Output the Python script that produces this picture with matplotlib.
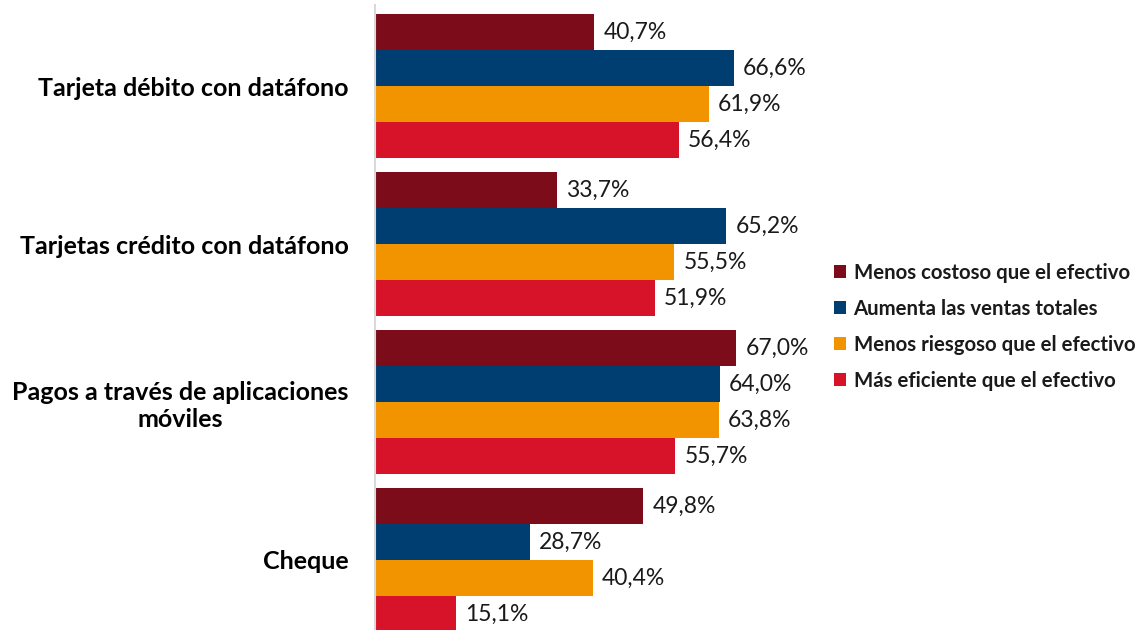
import matplotlib.pyplot as plt
import numpy as np

categories = ["Tarjeta débito con datáfono",
              "Tarjetas crédito con datáfono",
              "Pagos a través de aplicaciones\nmóviles",
              "Cheque"]
series_names = ["Menos costoso que el efectivo",
                "Aumenta las ventas totales",
                "Menos riesgoso que el efectivo",
                "Más eficiente que el efectivo"]
menos_costoso = [40.7, 33.7, 67.0, 49.8]
aumenta_ventas = [66.6, 65.2, 64.0, 28.7]
menos_riesgoso = [61.9, 55.5, 63.8, 40.4]
mas_eficiente = [56.4, 51.9, 55.7, 15.1]
colors = ["#7C0C1A", "#003E72", "#F29400", "#D7132A"]

plt.rcParams['font.family'] = ['Lato', 'DejaVu Sans']

W, H = 1137, 630
fig = plt.figure(figsize=(W / 100, H / 100), dpi=100)
# axes placed in pixel units: left 375, right 820, top 5, bottom 630
ax = fig.add_axes([375 / W, 0, (820 - 375) / W, (630 - 5) / H])

pitch = 158.0
bar_h = 36.0 / pitch
y = np.arange(len(categories))
all_series = [menos_costoso, aumenta_ventas, menos_riesgoso, mas_eficiente]

for k, (vals, name, c) in enumerate(zip(all_series, series_names, colors)):
    pos = y - 1.5 * bar_h + k * bar_h
    ax.barh(pos, vals, height=bar_h, color=c, label=name)
    for p, v in zip(pos, vals):
        ax.text(v + 1.7, p, f"{v:.1f}%".replace(".", ","), va="center", ha="left",
                fontsize=16.5, color="#1a1a1a")

ax.set_xlim(0, 445 / 5.39)
ax.set_ylim((630 - 86) / pitch, -(86 - 5) / pitch)

ax.set_yticks(y)
ax.set_yticklabels(categories, fontsize=18, fontweight="bold", multialignment="center")
ax.tick_params(axis="y", length=0, pad=19)
ax.set_xticks([])
for s in ["top", "right", "bottom"]:
    ax.spines[s].set_visible(False)
ax.spines["left"].set_color("#d9d9d9")
ax.spines["left"].set_linewidth(1.5)

leg = fig.legend(loc="upper left", bbox_to_anchor=(826 / W, 1 - 255 / H), frameon=False,
                 fontsize=14.7, handlelength=0.6, handleheight=0.6, handletextpad=0.35,
                 labelspacing=0.78, borderaxespad=0)
for t in leg.get_texts():
    t.set_fontweight("bold")
    t.set_color("#1a1a1a")

fig.savefig("out.png", dpi=100)
